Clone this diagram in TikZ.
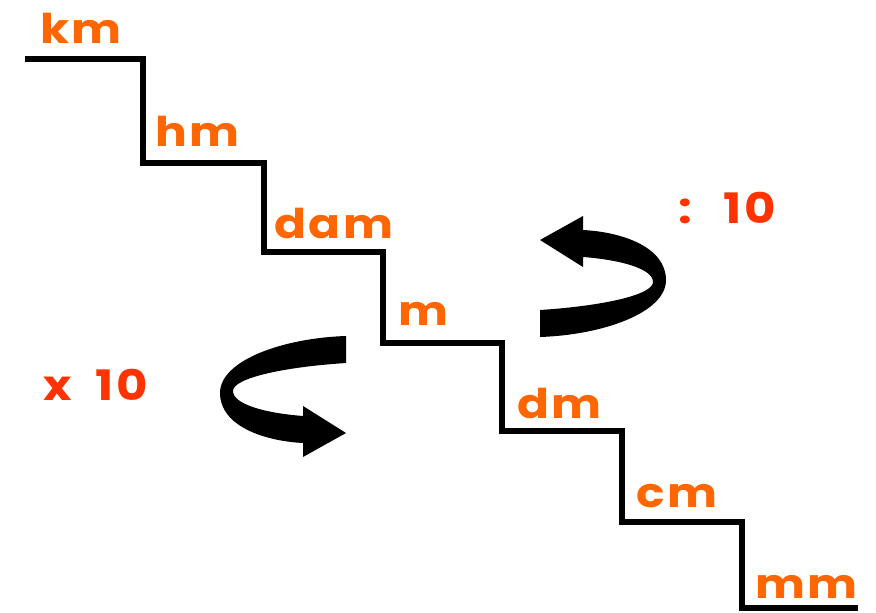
\documentclass[tikz,border=0pt]{standalone}
\usepackage{fontspec}
\newfontfamily\unitfont[FakeStretch=1.15,LetterSpace=6]{Poppins}
\definecolor{unitorange}{HTML}{FF6600}
\definecolor{factorred}{HTML}{FF3300}
\begin{document}
\begin{tikzpicture}[x=1pt,y=-1pt,
    unit/.style={anchor=base west,inner sep=0pt,text=unitorange,font=\unitfont\bfseries\fontsize{41}{41}\selectfont},
    factor/.style={anchor=base west,inner sep=0pt,text=factorred,font=\unitfont\bfseries\fontsize{42}{42}\selectfont},
    turnarrow/.pic={
        \fill(-62,60).. controls(0,58)and(64,36)..(64,3)
            .. controls(64,-30)and(20,-45)..(-19,-47)--(-19,-61)--(-62,-37)--(-19,-10)--(-19,-20)
            .. controls(20,-17)and(51,-8)..(51,5)
            .. controls(51,18)and(0,29)..(-62,33)--cycle;
    }]
    \useasboundingbox(0,0)rectangle(876,613);
    % stairs
    \draw[line width=6pt,line join=miter](25,59)--(143,59)--(143,163)--(264,163)--(264,252)--(383,252)
        --(383,343)--(502,343)--(502,431)--(622,431)--(622,522)--(742,522)--(742,608)--(858,608);
    \node[unit](km)at(40,43){km};
    \node[unit](hm)at(155,146){hm};
    \node[unit](dam)at(274,238){dam};
    \node[unit](m)at(398,325){m};
    \node[unit](dm)at(517,418){dm};
    \node[unit](cm)at(636,507){cm};
    \node[unit](mm)at(755,598){mm};
    % arrows
    \pic at(602,277){turnarrow};
    \pic[rotate=180] at(284,396){turnarrow};
    \node[factor](div)at(678,223){:\hspace{15pt} 10};
    \node[factor](mul)at(43,400){x\hspace{11pt} 10};
\end{tikzpicture}
\end{document}
